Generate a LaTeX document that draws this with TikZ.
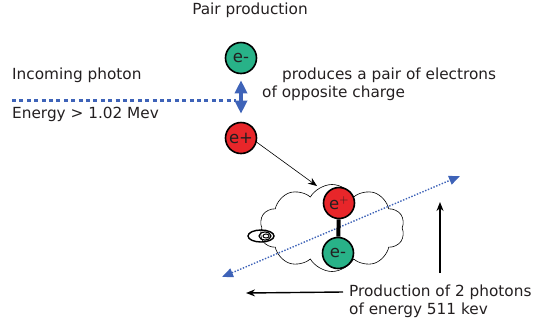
\documentclass[tikz,border=0pt]{standalone}
\usepackage{fontspec}
\setmainfont{DejaVu Sans}
\usetikzlibrary{arrows.meta,shapes.symbols}
\definecolor{ered}{RGB}{232,38,42}
\definecolor{egreen}{RGB}{40,178,136}
\definecolor{pblue}{RGB}{62,99,184}
\definecolor{txt}{RGB}{35,31,32}

\begin{document}
\begin{tikzpicture}[x=1pt,y=1pt,
  every node/.style={inner sep=0pt, text=txt, font=\fontsize{15.3}{18}\selectfont},
  lbl/.style={anchor=west},
  electron/.style={circle, draw=black, line width=1.6pt, fill=egreen, minimum size=31pt,
    font=\fontsize{16.5}{18}\selectfont},
  positron/.style={electron, fill=ered},
  beam/.style={pblue, line width=3pt, dash pattern=on 4pt off 3.4pt},
  photon/.style={pblue, line width=1.4pt, dash pattern=on 1.4pt off 1.6pt,
    {Triangle[length=11pt,width=9pt]}-{Triangle[length=11pt,width=9pt]}},
  arrow/.style={black, line width=1.4pt, -{Stealth[length=9pt,width=7pt]}}
]
\useasboundingbox (0,0) rectangle (546,-325);

\node (title) at (250,-10) {Pair production};

% incoming photon
\node[lbl] (inc) at (12,-75) {Incoming photon};
\node[lbl] (energy) at (12,-114) {Energy > 1.02 Mev};
\coordinate (bs) at (12,-100);
\coordinate (be) at (236,-100);
\draw[beam] (bs) -- (be);

% the pair
\node[electron] (em) at (241,-58) {e-};
\node[positron] (ep) at (241,-138) {e+};
\draw[pblue, line width=4pt, shorten <=6pt, shorten >=8pt,
  {Triangle[length=13pt,width=12pt]}-{Triangle[length=13pt,width=12pt]}] (em) -- (ep);
\node[lbl] (prod) at (282,-75) {produces a pair of electrons};
\node[lbl] (opp) at (262,-93) {of opposite charge};

% cloud with the pair in it
\node[cloud, draw=black, line width=0.6pt, fill=white, cloud puffs=10,
  cloud puff arc=120, aspect=1.7, minimum width=145pt, minimum height=87pt] (cl) at (332,-228) {};
\draw[line width=1.4pt] (261,-236) ellipse (13pt and 6pt);
\draw[line width=1.2pt] (265,-236) ellipse (6pt and 4pt);
\draw[line width=1pt] (266,-236) ellipse (3pt and 2pt);

\coordinate (hit) at (317,-186);
\draw[black, line width=0.6pt, -{Stealth[length=9pt,width=7pt]}] (ep.-15) -- (hit);

% the two photons
\coordinate (gl) at (222,-277);
\coordinate (gr) at (460,-176);
\draw[photon] (gl) -- (gr);

\node[positron] (cp) at (339,-203) {e$^+$};
\node[electron] (ce) at (338,-253) {e-};
\draw[line width=4pt] (cp) -- (ce);

\coordinate (vb) at (440,-273);
\coordinate (vt) at (440,-202);
\draw[arrow] (vb) -- (vt);

\node[lbl] (two) at (349,-292) {Production of 2 photons};
\node[lbl] (kev) at (349,-310) {of energy 511 kev};
\coordinate (pl) at (246,-293);
\draw[arrow] ([xshift=-6pt]two.west) -- (pl);
\end{tikzpicture}
\end{document}
